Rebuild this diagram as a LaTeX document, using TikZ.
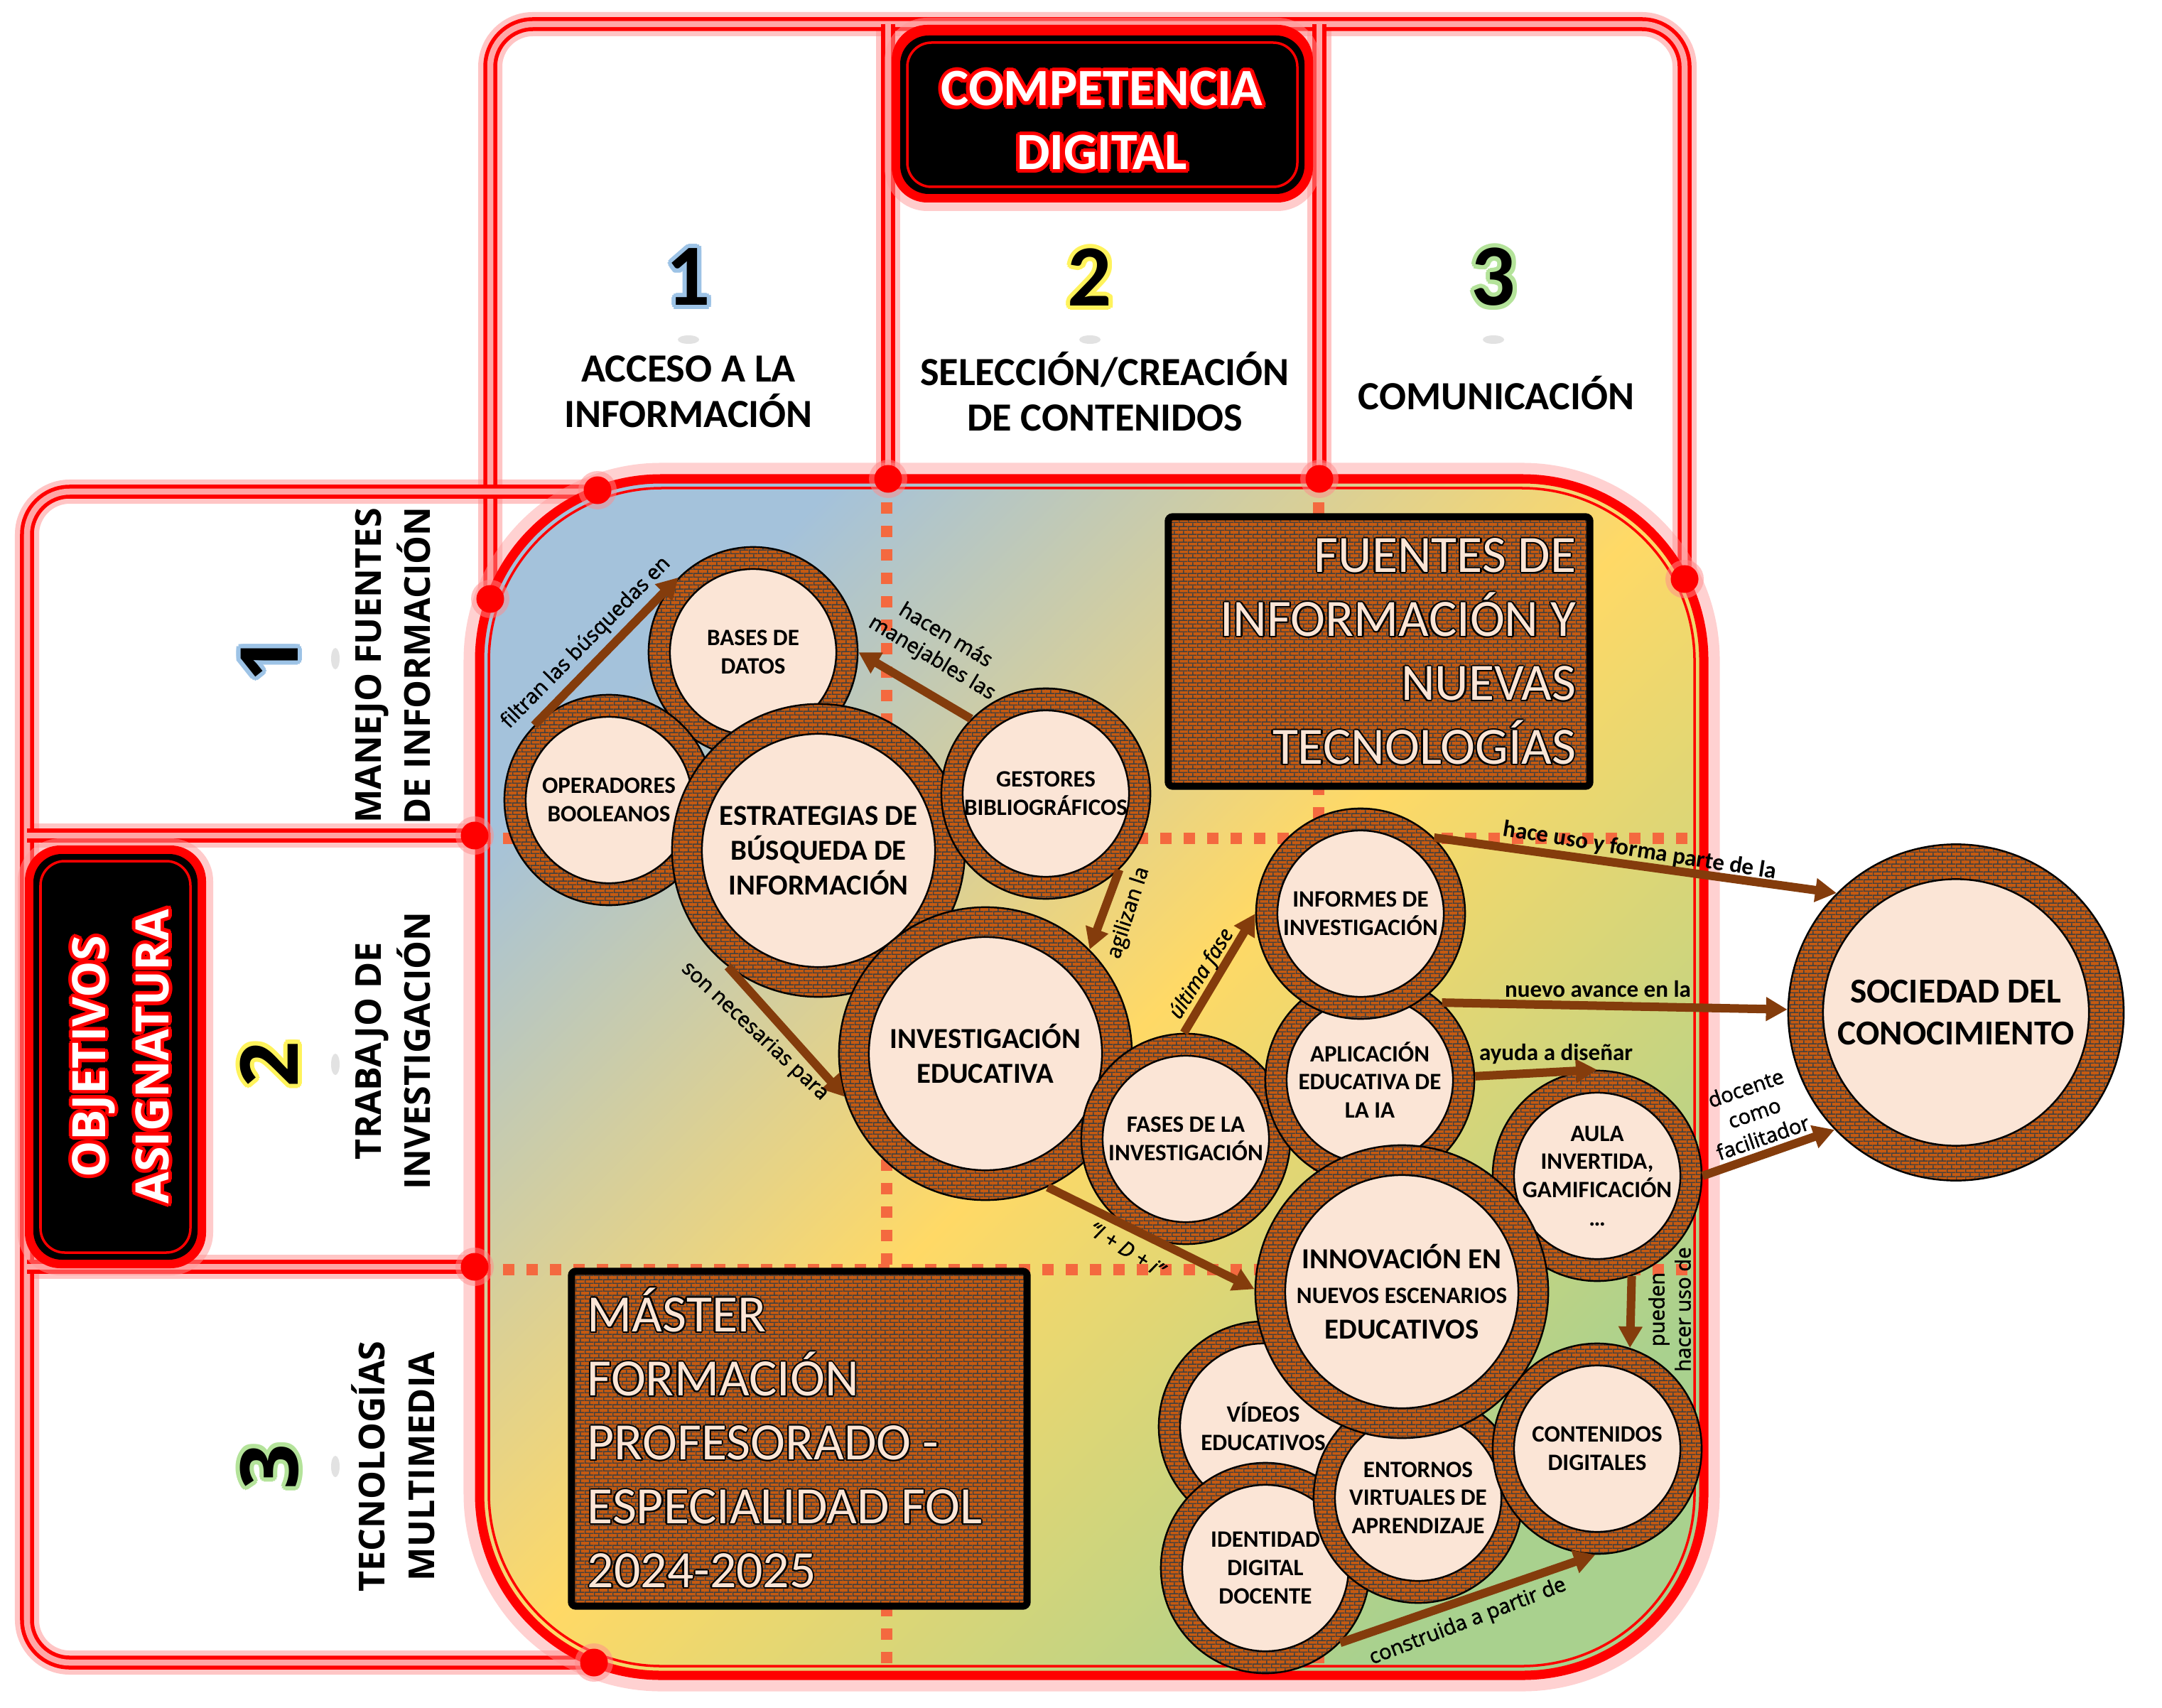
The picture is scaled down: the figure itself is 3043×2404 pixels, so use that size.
\documentclass[tikz,border=0pt]{standalone}
\usepackage{fontspec}
\setmainfont{Carlito}
\newfontfamily\opensans{Open Sans}
\newfontfamily\labsans{Open Sans}[FakeBold=1.6]
\usepackage{tikz}
\usetikzlibrary{arrows.meta,positioning,calc,shapes.geometric,patterns.meta}
\definecolor{neon}{HTML}{FF0000}
\definecolor{brick}{HTML}{C55A11}
\definecolor{mortar}{HTML}{404040}
\definecolor{peach}{HTML}{FBE5D6}
\definecolor{rust}{HTML}{843C0C}
\definecolor{dashor}{HTML}{F4693F}
\definecolor{sky}{HTML}{A4C2DB}
\definecolor{sun}{HTML}{FFD966}
\definecolor{leaf}{HTML}{A9D18E}
\definecolor{glowblue}{HTML}{9DC3E6}
\definecolor{glowyellow}{HTML}{FFF35C}
\definecolor{glowgreen}{HTML}{B4E39A}
\newcommand\ringfont{\bfseries\fontsize{9.4}{11.3}\selectfont}
\newcommand\ringbigfont{\bfseries\fontsize{11.6}{14}\selectfont}
\newcommand\ringsocfont{\bfseries\fontsize{14}{16.8}\selectfont}
\tikzdeclarepattern{
  name=brickwall,
  type=uncolored,
  bounding box={(0pt,0pt) and (3.6pt,3.2pt)},
  tile size={(3.6pt,3.2pt)},
  code={
    \draw[line width=0.45pt] (0pt,0.2pt) -- (3.6pt,0.2pt)
      (0pt,1.8pt) -- (3.6pt,1.8pt)
      (0.2pt,0.2pt) -- (0.2pt,1.8pt)
      (2pt,1.8pt) -- (2pt,3.2pt);
  }
}

\begin{document}
\begin{tikzpicture}[x=0.01cm,y=-0.01cm]
  \tikzset{
    track/.style={draw=neon,line width=0.55mm,double=neon!35,double distance=0.85mm,rounded corners=6mm},
    trackglow/.style={draw=neon!45,line width=3.4mm,rounded corners=6mm,opacity=0.5},
    joint/.style={circle,fill=neon,minimum size=3.9mm,inner sep=0pt},
    ring/.style={ellipse,draw=black,line width=0.7pt,preaction={fill=brick},pattern=brickwall,pattern color=mortar,inner sep=0pt},
    core/.style={ellipse,draw=black,line width=0.7pt,fill=peach,inner sep=0pt},
    smallring/.style={ring,minimum width=2.94cm,minimum height=2.96cm},
    smallcore/.style={core,minimum width=2.34cm,minimum height=2.34cm},
    smalltext/.style={align=center,inner sep=0pt,font=\ringfont},
    bigring/.style={ring,minimum width=4.12cm,minimum height=4.12cm},
    bigcore/.style={core,minimum width=3.28cm,minimum height=3.28cm},
    bigtext/.style={align=center,inner sep=0pt,font=\ringbigfont},
    socring/.style={ring,minimum width=4.72cm,minimum height=4.73cm},
    soccore/.style={core,minimum width=3.74cm,minimum height=3.75cm},
    soctext/.style={align=center,inner sep=0pt,font=\ringsocfont},
    brickbox/.style={rectangle,draw=black,line width=1mm,rounded corners=0.6mm,preaction={fill=brick},pattern=brickwall,pattern color=mortar,inner sep=0pt},
    gridline/.style={draw=dashor,line width=1.6mm,dash pattern=on 1.6mm off 1.7mm},
    arrow/.style={-{Triangle[length=3mm,width=3.2mm]},draw=rust,line width=1.2mm},
    titletext/.style={font=\bfseries\fontsize{21}{25.6}\selectfont,align=center,inner sep=0pt},
    sidetitle/.style={font=\opensans\bfseries\fontsize{18.4}{25.3}\selectfont,align=center,inner sep=0pt,rotate=90},
    colhead/.style={font=\bfseries\fontsize{16}{18.2}\selectfont,align=center,inner sep=0pt},
    rowhead/.style={font=\opensans\bfseries\fontsize{14.3}{19.9}\selectfont,align=center,inner sep=0pt,rotate=90},
    colnum/.style={font=\bfseries\fontsize{35}{40}\selectfont,inner sep=0pt},
    rownum/.style={font=\opensans\bfseries\fontsize{32}{36}\selectfont,inner sep=0pt,rotate=90},
    plaque/.style={font=\fontsize{21}{25.6}\selectfont,inner sep=0pt},
    lab/.style={font=\labsans\fontsize{8.3}{10.5}\selectfont,align=center,inner sep=0pt},
    calab/.style={font=\bfseries\fontsize{9.4}{11}\selectfont,inner sep=0pt}
  }
  \useasboundingbox (0,0) rectangle (3043,2404);
  \fill[white] (0,0) rectangle (3043,2404);

  % frames of the two axes
  \draw[trackglow] (690,843) -- (690,34) -- (2371,34) -- (2371,815);
  \draw[trackglow] (1250,34) -- (1250,674) (1857,34) -- (1857,674);
  \draw[trackglow] (841,692) -- (38,692) -- (38,2340) -- (836,2340);
  \draw[trackglow] (38,1176) -- (668,1176) (38,1783) -- (668,1783);
  \draw[track] (690,843) -- (690,34) -- (2371,34) -- (2371,815);
  \draw[track] (1250,34) -- (1250,674);
  \draw[track] (1857,34) -- (1857,674);
  \draw[track] (841,692) -- (38,692) -- (38,2340) -- (836,2340);
  \draw[track] (38,1176) -- (668,1176);
  \draw[track] (38,1783) -- (668,1783);

  % central panel
  \draw[neon!40,line width=4.5mm,opacity=0.45,rounded corners=25.5mm] (675,674) rectangle (2398,2358);
  \shade[top color=sky,bottom color=leaf,middle color=sun,shading angle=45,rounded corners=25.5mm] (675,674) rectangle (2398,2358);
  \draw[gridline] (1248,674) -- (1248,2358);
  \draw[gridline] (1856,674) -- (1856,2358);
  \draw[gridline] (675,1180) -- (2398,1180);
  \draw[gridline] (675,1787) -- (2398,1787);
  \draw[neon,line width=1.3mm,rounded corners=25.5mm] (675,674) rectangle (2398,2358);
  \draw[neon,line width=0.35mm,rounded corners=24.3mm] (688,687) rectangle (2385,2345);

  \foreach \jx/\jy [count=\k] in {841/690,690/843,1250/674,1857/674,2371/815,668/1176,668/1783,836/2340}{
    \fill[neon!45,opacity=0.5] (\jx,\jy) circle (27);
    \node[joint] (joint\k) at (\jx,\jy) {};
  }

  % title boxes
  \fill[neon!40,opacity=0.5,rounded corners=6mm] (1245,25) rectangle (1858,297);
  \fill[neon,rounded corners=5mm] (1255,35) rectangle (1848,285);
  \fill[black,rounded corners=4mm] (1267,50) rectangle (1836,273);
  \draw[neon,line width=0.35mm,rounded corners=3.4mm] (1277,60) rectangle (1826,263);
  \foreach \a in {0,30,...,330}
    \node[titletext,text=neon] (compglow\a) at ($(1551,170)+(\a:5)$) {COMPETENCIA\\DIGITAL};
  \node[titletext,text=white] (compdig) at (1551,170) {COMPETENCIA\\DIGITAL};

  \fill[neon!40,opacity=0.5,rounded corners=6mm] (25,1180) rectangle (300,1795);
  \fill[neon,rounded corners=5mm] (35,1190) rectangle (290,1785);
  \fill[black,rounded corners=4mm] (47,1202) rectangle (278,1773);
  \draw[neon,line width=0.35mm,rounded corners=3.4mm] (57,1212) rectangle (268,1763);
  \foreach \a in {0,30,...,330}
    \node[sidetitle,text=neon] (objglow\a) at ($(170,1487)+(\a:5)$) {OBJETIVOS\\ASIGNATURA};
  \node[sidetitle,text=white] (objetivos) at (170,1487) {OBJETIVOS\\ASIGNATURA};

  % column and row headings
  \foreach \t/\cx/\gc in {1/969/glowblue,2/1534/glowyellow,3/2102/glowgreen}{
    \foreach \a in {0,30,...,330}
      \node[colnum,text=\gc] (cg\t-\a) at ($(\cx,390)+(\a:6)$) {\t};
    \node[colnum] (colnum\t) at (\cx,390) {\t};
    \fill[gray!50,opacity=0.45] (\cx,478) ellipse (15 and 6);
  }
  \foreach \t/\cy/\gc in {1/927/glowblue,2/1498/glowyellow,3/2064/glowgreen}{
    \foreach \a in {0,30,...,330}
      \node[rownum,text=\gc] (rg\t-\a) at ($(379,\cy)+(\a:6)$) {\t};
    \node[rownum] (rownum\t) at (379,\cy) {\t};
    \fill[gray!50,opacity=0.45] (472,\cy) ellipse (6 and 15);
  }
  \node[colhead] (acceso) at (969,551) {ACCESO A LA\\INFORMACIÓN};
  \node[colhead] (seleccion) at (1555,551) {SELECCIÓN/CREACIÓN\\DE CONTENIDOS};
  \node[colhead] (comunicacion) at (2106,553) {COMUNICACIÓN};
  \node[rowhead] (manejo) at (553,937) {MANEJO FUENTES\\DE INFORMACIÓN};
  \node[rowhead] (trabajo) at (553,1479) {TRABAJO DE\\INVESTIGACIÓN};
  \node[rowhead] (multimedia) at (553,2064) {TECNOLOGÍAS\\MULTIMEDIA};

  % brick plaques
  \node[brickbox,minimum width=5.93cm,minimum height=3.79cm] (fuentes) at (1941,917) {};
  \foreach \a in {0,45,...,315}
    \node[plaque,anchor=east,align=right,text=black] (fuentesedge\a) at ($(2219,917)+(\a:2.2)$) {FUENTES DE\\INFORMACIÓN Y\\NUEVAS\\TECNOLOGÍAS};
  \node[plaque,anchor=east,align=right,text=peach] (fuentestxt) at (2219,917) {FUENTES DE\\INFORMACIÓN Y\\NUEVAS\\TECNOLOGÍAS};
  \node[brickbox,minimum width=6.41cm,minimum height=4.71cm] (master) at (1125,2025) {};
  \foreach \a in {0,45,...,315}
    \node[plaque,anchor=west,align=left,text=black] (masteredge\a) at ($(826,2024)+(\a:2.2)$) {MÁSTER\\FORMACIÓN\\PROFESORADO -\\ESPECIALIDAD FOL\\2024-2025};
  \node[plaque,anchor=west,align=left,text=peach] (mastertxt) at (826,2024) {MÁSTER\\FORMACIÓN\\PROFESORADO -\\ESPECIALIDAD FOL\\2024-2025};

  % concept rings
  \node[smallring] (bases) at (1060,918) {};
  \node[smallcore] (bases-core) at (bases) {};
  \node[smalltext] (bases-txt) at (bases) {BASES DE\\DATOS};
  \node[smallring] (operadores) at (857,1126) {};
  \node[smallcore] (operadores-core) at (operadores) {};
  \node[smalltext] (operadores-txt) at (operadores) {OPERADORES\\BOOLEANOS};
  \node[bigring] (estrategias) at (1152,1197) {};
  \node[bigcore] (estrategias-core) at (estrategias) {};
  \node[bigtext] (estrategias-txt) at (estrategias) {ESTRATEGIAS DE\\BÚSQUEDA DE\\INFORMACIÓN};
  \node[smallring] (gestores) at (1472,1117) {};
  \node[smallcore] (gestores-core) at (gestores) {};
  \node[smalltext] (gestores-txt) at (gestores) {GESTORES\\BIBLIOGRÁFICOS};
  \node[bigring] (investigacion) at (1387,1483) {};
  \node[bigcore] (investigacion-core) at (investigacion) {};
  \node[bigtext] (investigacion-txt) at (investigacion) {INVESTIGACIÓN\\EDUCATIVA};
  \node[smallring] (fases) at (1669,1603) {};
  \node[smallcore] (fases-core) at (fases) {};
  \node[smalltext] (fases-txt) at (fases) {FASES DE LA\\INVESTIGACIÓN};
  \node[smallring] (aplicacion) at (1928,1520) {};
  \node[smallcore] (aplicacion-core) at (aplicacion) {};
  \node[smalltext] (aplicacion-txt) at (aplicacion) {APLICACIÓN\\EDUCATIVA DE\\LA IA};
  \node[smallring] (informes) at (1915,1286) {};
  \node[smallcore] (informes-core) at (informes) {};
  \node[smalltext] (informes-txt) at (informes) {INFORMES DE\\INVESTIGACIÓN};
  \node[smallring] (aula) at (2248,1655) {};
  \node[smallcore] (aula-core) at (aula) {};
  \node[smalltext] (aula-txt) at (aula) {AULA\\INVERTIDA,\\GAMIFICACIÓN\\…};
  \node[smallring] (videos) at (1778,2008) {};
  \node[smallcore] (videos-core) at (videos) {};
  \node[smalltext] (videos-txt) at (videos) {VÍDEOS\\EDUCATIVOS};
  \node[smallring] (identidad) at (1781,2207) {};
  \node[smallcore] (identidad-core) at (identidad) {};
  \node[smalltext] (identidad-txt) at (identidad) {IDENTIDAD\\DIGITAL\\DOCENTE};
  \node[smallring] (entornos) at (1996,2108) {};
  \node[smallcore] (entornos-core) at (entornos) {};
  \node[smalltext] (entornos-txt) at (entornos) {ENTORNOS\\VIRTUALES DE\\APRENDIZAJE};
  \node[smallring] (contenidos) at (2248,2039) {};
  \node[smallcore] (contenidos-core) at (contenidos) {};
  \node[smalltext] (contenidos-txt) at (contenidos) {CONTENIDOS\\DIGITALES};
  \node[bigring] (innovacion) at (1973,1818) {};
  \node[bigcore] (innovacion-core) at (innovacion) {};
  \node[bigtext] (innovacion-txt) at (innovacion) {INNOVACIÓN EN\\{\ringfont NUEVOS ESCENARIOS}\\EDUCATIVOS};
  \node[socring] (sociedad) at (2753,1425) {};
  \node[soccore] (sociedad-core) at (sociedad) {};
  \node[soctext] (sociedad-txt) at (sociedad) {SOCIEDAD DEL\\CONOCIMIENTO};

  % links
  \draw[arrow] (operadores.135) -- (bases.135);
  \draw[arrow] (gestores.135) -- (bases.0);
  \draw[arrow] (gestores.-46) -- (investigacion.45);
  \draw[arrow] (estrategias.-128) -- (investigacion.197);
  \draw[arrow] (investigacion.-65) -- (innovacion.179);
  \draw[arrow] (fases.91) -- (informes.180);
  \draw[arrow] (informes.46) -- (sociedad.135);
  \draw[arrow] (aplicacion.47) -- (sociedad.179);
  \draw[arrow] (aplicacion.2) -- (aula.90);
  \draw[arrow] (aula.0) -- (sociedad.224);
  \draw[arrow] (aula.-71) -- (contenidos.72);
  \draw[arrow] (identidad.-45) -- (contenidos.-91);

  \node[lab,rotate=45.5] (lbl-filtran) at (825,905) {filtran las búsquedas en};
  \node[lab,rotate=-31] (lbl-hacen) at (1321,911) {hacen más\\manejables las};
  \node[lab,rotate=72] (lbl-agilizan) at (1589,1285) {agilizan la};
  \node[lab,rotate=-43] (lbl-necesarias) at (1062,1452) {son necesarias para};
  \node[lab,rotate=-32,font=\labsans\itshape\fontsize{8.3}{10.5}\selectfont] (lbl-idi) at (1586,1758) {“I + D + i”};
  \node[lab,rotate=58,font=\labsans\itshape\fontsize{8.3}{10.5}\selectfont] (lbl-ultima) at (1692,1371) {última fase};
  \node[calab,rotate=-9] (lbl-uso) at (2308,1198) {hace uso y forma parte de la};
  \node[calab] (lbl-avance) at (2249,1392) {nuevo avance en la};
  \node[calab] (lbl-ayuda) at (2190,1483) {ayuda a diseñar};
  \node[lab,rotate=19] (lbl-docente) at (2469,1566) {docente\\como\\facilitador};
  \node[lab,rotate=90] (lbl-pueden) at (2350,1843) {pueden\\hacer uso de};
  \node[lab,rotate=21] (lbl-construida) at (2066,2283) {construida a partir de};
\end{tikzpicture}
\end{document}
